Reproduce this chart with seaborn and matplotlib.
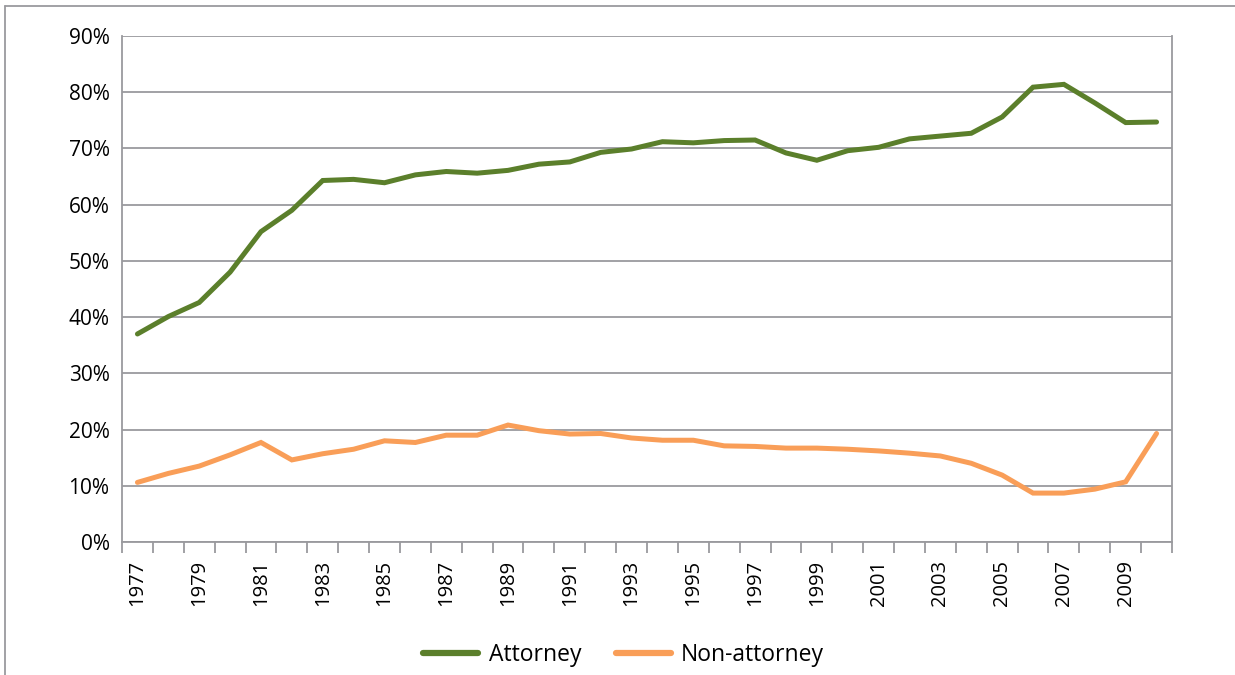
import matplotlib
matplotlib.use("Agg")
import matplotlib.pyplot as plt
from matplotlib.lines import Line2D
from matplotlib.ticker import FixedLocator, PercentFormatter
import numpy as np
import pandas as pd
import seaborn as sns

# Share of cases, by year
years = list(range(1977, 2011))
attorney = [37.0, 40.1, 42.6, 48.0, 55.2, 59.0, 64.3, 64.5, 63.9, 65.3,
            65.9, 65.6, 66.1, 67.2, 67.6, 69.3, 69.9, 71.2, 71.0, 71.4,
            71.5, 69.2, 67.9, 69.6, 70.2, 71.7, 72.2, 72.7, 75.6, 80.9,
            81.4, 78.1, 74.6, 74.7]
non_attorney = [10.6, 12.2, 13.5, 15.5, 17.7, 14.6, 15.7, 16.5, 18.0, 17.7,
                19.0, 19.0, 20.8, 19.8, 19.2, 19.3, 18.5, 18.1, 18.1, 17.1,
                17.0, 16.7, 16.7, 16.5, 16.2, 15.8, 15.3, 14.0, 11.9, 8.7,
                8.7, 9.4, 10.7, 19.3]
series_names = ["Attorney", "Non-attorney"]
colors = ["#5b7f2b", "#f99e58"]
y_ticks = list(range(0, 100, 10))

sns.set_theme(style="white")
plt.rcParams["font.family"] = ["Open Sans", "DejaVu Sans"]
plt.rcParams["text.color"] = "black"
plt.rcParams["xtick.color"] = "black"
plt.rcParams["ytick.color"] = "black"

df = pd.DataFrame({
    "pos": list(range(len(years))) * 2,
    "value": attorney + non_attorney,
    "series": [series_names[0]] * len(years) + [series_names[1]] * len(years),
})

fig = plt.figure(figsize=(12.35, 6.75), dpi=100)
ax = fig.add_axes([122 / 1235, 1 - 542 / 675, 1050 / 1235, 506 / 675])

sns.lineplot(data=df, x="pos", y="value", hue="series",
             palette=dict(zip(series_names, colors)), linewidth=3.6,
             ax=ax, legend=False, solid_capstyle="round",
             solid_joinstyle="miter")

grid_c = "#9a9a9e"
ax.set_xlim(-0.5, len(years) - 0.5)
ax.set_ylim(0, 90)
ax.set_yticks(y_ticks)
ax.yaxis.set_major_formatter(PercentFormatter(decimals=0))
ax.grid(axis="y", color=grid_c, linewidth=1.3)
ax.set_axisbelow(True)
for side in ["left", "bottom", "right"]:
    ax.spines[side].set_color(grid_c)
    ax.spines[side].set_linewidth(1.3)
ax.spines["top"].set_visible(False)

# tick marks between categories, labels on every other year
ax.xaxis.set_major_locator(FixedLocator(np.arange(-0.5, len(years), 1.0)))
ax.xaxis.set_major_formatter(plt.NullFormatter())
ax.tick_params(axis="x", which="major", direction="out", length=8,
               width=1.3, color=grid_c, bottom=True)
label_pos = list(range(0, len(years), 2))
ax.xaxis.set_minor_locator(FixedLocator(label_pos))
ax.set_xticklabels([str(years[i]) for i in label_pos], minor=True,
                   rotation=90, fontsize=14.5)
ax.tick_params(axis="x", which="minor", length=0, pad=13, labelcolor="black")
ax.tick_params(axis="y", length=0, labelsize=15, pad=9, labelcolor="black")
ax.set_xlabel("")
ax.set_ylabel("")

handles = [Line2D([], [], color=c, linewidth=4.5, solid_capstyle="round")
           for c in colors]
fig.legend(handles, series_names, loc="center", bbox_to_anchor=(0.505, 0.03),
           ncol=2, frameon=False, fontsize=16.5, handlelength=2.4,
           handletextpad=0.45, columnspacing=1.5, labelcolor="black")

# chart border
fig.add_artist(Line2D([5 / 1235, 1], [1 - 6 / 675, 1 - 6 / 675],
                      color=grid_c, linewidth=1.3))
fig.add_artist(Line2D([5 / 1235, 5 / 1235], [0, 1 - 6 / 675],
                      color=grid_c, linewidth=1.3))

fig.savefig("out.png", dpi=100)
